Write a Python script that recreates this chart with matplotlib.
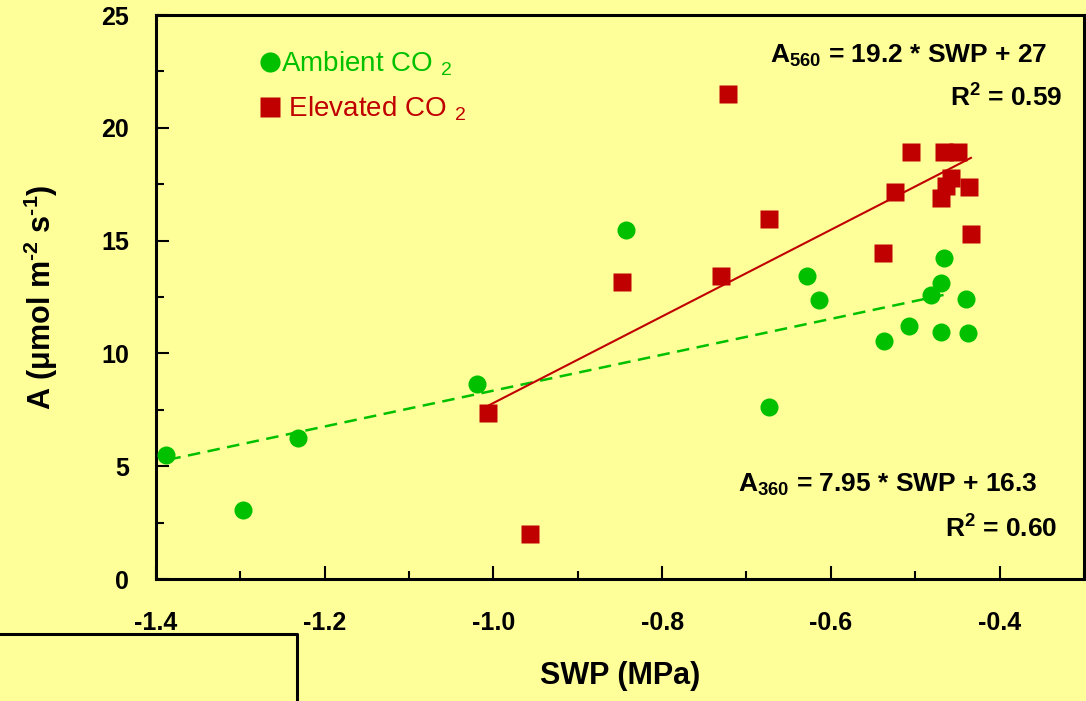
import numpy as np
import matplotlib.pyplot as plt
from matplotlib.lines import Line2D
from matplotlib.ticker import MultipleLocator, FormatStrFormatter

plt.rcParams['font.family'] = 'Liberation Sans'
plt.rcParams['mathtext.default'] = 'regular'
plt.rcParams['axes.unicode_minus'] = False

# soil water potential (MPa) vs net assimilation (umol m-2 s-1)
swp_ambient = [-1.388, -1.297, -1.231, -1.019, -0.843, -0.628, -0.614, -0.673,
               -0.537, -0.507, -0.466, -0.470, -0.481, -0.440, -0.470, -0.438]
a_ambient = [5.50, 3.06, 6.24, 8.64, 15.47, 13.44, 12.37, 7.61,
             10.55, 11.21, 14.22, 13.11, 12.59, 12.40, 10.96, 10.92]

swp_elevated = [-1.006, -0.956, -0.847, -0.730, -0.722, -0.673, -0.538, -0.524,
                -0.505, -0.466, -0.449, -0.458, -0.463, -0.470, -0.436, -0.434]
a_elevated = [7.34, 2.00, 13.15, 13.44, 21.48, 15.97, 14.44, 17.17,
              18.94, 18.94, 18.94, 17.76, 17.42, 16.88, 17.39, 15.28]

# linear fits (slope, intercept) and the SWP range each is drawn over
fit_ambient = (7.95, 16.3)
fit_ambient_x = [-1.385, -0.458]
fit_elevated = (19.2, 27.0)
fit_elevated_x = [-1.005, -0.434]

bg = '#FFFF99'
green = '#00C000'
red = '#C00000'

fig = plt.figure(figsize=(10.86, 7.01), dpi=100, facecolor=bg)
ax = fig.add_axes([0.1434, 0.174, 0.8548, 0.8046])
ax.set_facecolor(bg)

# regression lines
xa = np.array(fit_ambient_x)
ax.plot(xa, fit_ambient[0] * xa + fit_ambient[1], color=green, lw=1.8,
        dashes=(5, 3), zorder=2)
xe = np.array(fit_elevated_x)
ax.plot(xe, fit_elevated[0] * xe + fit_elevated[1], color=red, lw=1.5, zorder=2)

# points
ax.plot(swp_ambient, a_ambient, 'o', color=green, ms=13, mec='none', zorder=3)
ax.plot(swp_elevated, a_elevated, 's', color=red, ms=13, mec='none', zorder=3)

ax.set_xlim(-1.4, -0.3)
ax.set_ylim(0, 25)
ax.xaxis.set_major_locator(MultipleLocator(0.2))
ax.xaxis.set_minor_locator(MultipleLocator(0.1))
ax.xaxis.set_major_formatter(FormatStrFormatter('%.1f'))
ax.yaxis.set_major_locator(MultipleLocator(5))
ax.yaxis.set_minor_locator(MultipleLocator(2.5))

for s in ax.spines.values():
    s.set_linewidth(2.2)
ax.tick_params(which='both', direction='in', width=1.5)
ax.tick_params(which='major', length=9.5)
ax.tick_params(which='minor', length=5.5)
ax.tick_params(axis='x', which='major', pad=23)
ax.tick_params(axis='y', which='major', pad=19)
for lab in ax.get_xticklabels() + ax.get_yticklabels():
    lab.set_fontsize(18)
    lab.set_fontweight('bold')

ax.set_xlabel('SWP (MPa)', fontsize=22, fontweight='bold')
ax.xaxis.set_label_coords(0.5, -0.145)
ax.set_ylabel('A (\u03bcmol m$^{\u20102}$ s$^{\u20101}$)', fontsize=22, fontweight='bold')
ax.yaxis.set_label_coords(-0.103, 0.5)

# legend
handles = [Line2D([], [], marker='o', ls='none', color=green, ms=14.5, mec='none'),
           Line2D([], [], marker='s', ls='none', color=red, ms=14.5, mec='none')]
ax.legend(handles, ['Ambient CO $_2$', ' Elevated CO $_2$'], loc='upper left',
          bbox_to_anchor=(0.114, 0.939), frameon=False, fontsize=20,
          handlelength=0.6, handletextpad=0.1, labelspacing=0.6,
          borderpad=0, borderaxespad=0, labelcolor='linecolor')

# regression equations
ax.text(0.961, 0.915, 'A$_{560}$ = 19.2 * SWP + 27', transform=ax.transAxes,
        ha='right', va='baseline', fontsize=19, fontweight='bold')
ax.text(0.976, 0.837, 'R$^2$ = 0.59', transform=ax.transAxes,
        ha='right', va='baseline', fontsize=19, fontweight='bold')
ax.text(0.950, 0.154, 'A$_{360}$ = 7.95 * SWP + 16.3', transform=ax.transAxes,
        ha='right', va='baseline', fontsize=19, fontweight='bold')
ax.text(0.971, 0.0727, 'R$^2$ = 0.60', transform=ax.transAxes,
        ha='right', va='baseline', fontsize=19, fontweight='bold')

# frame in the lower left corner of the page
fx = 296.7 / 1086
fy = 1 - 633.5 / 701
fig.add_artist(Line2D([0, fx, fx], [fy, fy, 0], transform=fig.transFigure,
                      color='black', lw=2.2))

fig.savefig('out.png', dpi=100, facecolor=bg)
